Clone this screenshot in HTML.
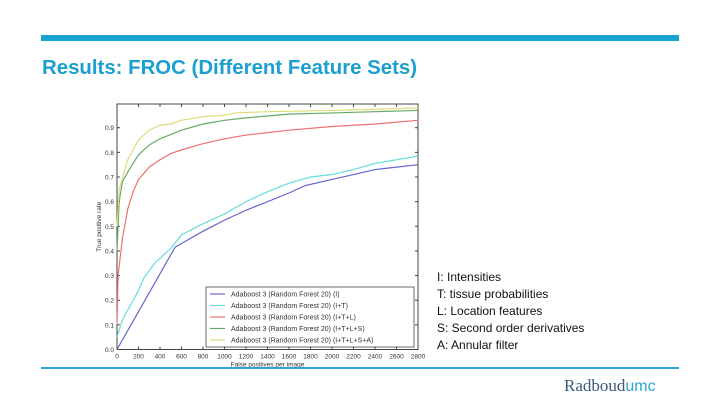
<!DOCTYPE html>
<html><head><meta charset="utf-8"><style>
body{margin:0;width:720px;height:405px;background:#fff;position:relative;overflow:hidden;font-family:"Liberation Sans",sans-serif}
.abs{position:absolute}
</style></head><body>
<div class="abs" style="left:41px;top:35px;width:638px;height:6px;background:#17a2d2"></div>
<div class="abs" style="left:42px;top:57px;font-size:20.4px;font-weight:bold;color:#1b9fcf">Results: FROC (Different Feature Sets)</div>
<svg class="abs" style="left:0;top:0" width="720" height="405">
<g id="plot"></g>
</svg>
<div class="abs" style="left:437px;top:269px;font-size:12px;line-height:17px;color:#111">
<div>I: Intensities</div>
<div>T: tissue probabilities</div>
<div>L: Location features</div>
<div>S: Second order derivatives</div>
<div>A: Annular filter</div>
</div>
<div class="abs" style="left:41px;top:367px;width:638px;height:2px;background:#2aa6cf"></div>
<div class="abs" style="left:564px;top:376px;font-size:17px;font-family:'Liberation Serif',serif;color:#3a5a7a">Radboud<span style="color:#2aa6cf;font-family:'Liberation Sans',sans-serif;font-size:16px">umc</span></div>
<script>
const xTicks=[0,200,400,600,800,1000,1200,1400,1600,1800,2000,2200,2400,2600,2800];
const yTicks=[0.0,0.1,0.2,0.3,0.4,0.5,0.6,0.7,0.8,0.9];
const seriesNames=["Adaboost 3 (Random Forest 20) (I)","Adaboost 3 (Random Forest 20) (I+T)","Adaboost 3 (Random Forest 20) (I+T+L)","Adaboost 3 (Random Forest 20) (I+T+L+S)","Adaboost 3 (Random Forest 20) (I+T+L+S+A)"];
const seriesColors=["#6666cc","#66dddd","#ee7070","#66aa66","#dddd77"];
const fpI=[0,540,600,800,1000,1200,1400,1600,1750,2000,2200,2400,2600,2800];
const tprI=[0,0.415,0.43,0.48,0.525,0.565,0.6,0.635,0.665,0.69,0.71,0.73,0.74,0.75];
const fpIT=[0,50,100,200,250,350,500,600,800,1000,1200,1400,1600,1800,2000,2200,2400,2600,2800];
const tprIT=[0.05,0.12,0.16,0.24,0.29,0.35,0.41,0.465,0.51,0.55,0.6,0.64,0.675,0.7,0.71,0.73,0.755,0.77,0.785];
const fpITL=[0,10,50,100,150,200,300,400,500,600,800,1000,1200,1400,1600,2000,2400,2800];
const tprITL=[0.1,0.3,0.45,0.57,0.64,0.69,0.74,0.77,0.795,0.81,0.835,0.855,0.87,0.88,0.89,0.905,0.915,0.93];
const fpITLS=[0,20,50,100,200,300,400,600,800,1000,1200,1600,2000,2400,2800];
const tprITLS=[0.4,0.6,0.68,0.72,0.79,0.83,0.855,0.89,0.915,0.93,0.94,0.955,0.96,0.965,0.97];
const fpITLSA=[0,20,100,200,300,400,500,600,800,1000,1100,1400,2000,2400,2800];
const tprITLSA=[0.5,0.65,0.77,0.85,0.89,0.91,0.915,0.93,0.945,0.95,0.96,0.965,0.97,0.975,0.98];
const allX=[fpI,fpIT,fpITL,fpITLS,fpITLSA], allY=[tprI,tprIT,tprITL,tprITLS,tprITLSA];
const L=117,R=418,B=349.5,T=104;
const sx=v=>L+(v/2800)*(R-L);
const sy=v=>B-(v/0.9)*(B-127.7);
const NS="http://www.w3.org/2000/svg";
const g=document.getElementById('plot');
function mk(t,a){const e=document.createElementNS(NS,t);for(const k in a)e.setAttribute(k,a[k]);g.appendChild(e);return e;}
const frame=mk('rect',{x:L,y:T,width:R-L,height:B-T,fill:'none',stroke:'#444','stroke-width':1});


xTicks.forEach(v=>{
 mk('line',{x1:sx(v),x2:sx(v),y1:B,y2:B-3,stroke:'#444'});
 mk('line',{x1:sx(v),x2:sx(v),y1:T,y2:T+3,stroke:'#444'});
 const t=mk('text',{x:sx(v),y:B+9,'font-size':6.5,'text-anchor':'middle',fill:'#333'});t.textContent=v;
 
 
});
yTicks.forEach(v=>{
 mk('line',{x1:L,x2:L+3,y1:sy(v),y2:sy(v),stroke:'#444'});
 mk('line',{x1:R,x2:R-3,y1:sy(v),y2:sy(v),stroke:'#444'});
 const t=mk('text',{x:L-3,y:sy(v)+2.5,'font-size':6.5,'text-anchor':'end',fill:'#333'});t.textContent=v.toFixed(1);
 
 
});
const xt=mk('text',{x:(L+R)/2,y:B+17,'font-size':6.5,'text-anchor':'middle',fill:'#333'});xt.textContent='False positives per image';


const yt=mk('text',{x:0,y:0,'font-size':6.5,'text-anchor':'middle',fill:'#333',transform:`translate(101,${(T+B)/2}) rotate(-90)`});yt.textContent='True positive rate';


allX.forEach((xs,i)=>{
 const p=mk('polyline',{points:xs.map((x,j)=>sx(x)+','+sy(allY[i][j])).join(' '),fill:'none',stroke:seriesColors[i],'stroke-width':1.2});
 
 
});
const lg=mk('rect',{x:206,y:287,width:208,height:60,fill:'#fff',stroke:'#444','stroke-width':0.8});


seriesNames.forEach((n,i)=>{
 const y=294+i*11.5;
 mk('line',{x1:210,x2:225,y1:y,y2:y,stroke:seriesColors[i],'stroke-width':1.2});
 const t=mk('text',{x:231,y:y+2.5,'font-size':7,fill:'#333'});t.textContent=n;
 
 
});
</script>
</body></html>
